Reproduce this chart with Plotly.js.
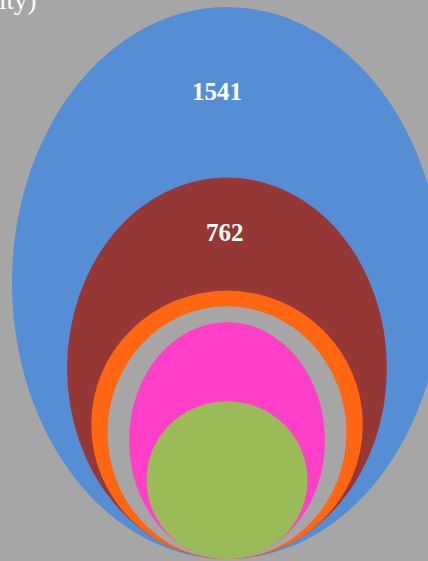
<!DOCTYPE html>
<html>
<head>
<meta charset="utf-8">
<script src="https://cdn.plot.ly/plotly-3.0.1.min.js"></script>
<style>
html,body{margin:0;padding:0;background:#a6a6a6;}
#chart{width:428px;height:561px;}
</style>
</head>
<body>
<div id="chart"></div>
<script>
// ---- data ----
var categories = ["A", "B", "C", "D", "E", "F"];
var values = [1541, 762, 442, 362, 274, 145];
var showLabel = [true, true, false, false, false, false];
var titleText = "ity)";

// ---- styles ----
var colors = ["#558ed5", "#953735", "#ff6611", "#a6a6a6", "#ff3fc8", "#9bbb59"];
var aspect = [0.779, 0.838, 1.012, 0.945, 0.827, 1.02]; // horizontal / vertical semi-axis
var areaScale = 57.5;   // axis units^2 per (value^expo)
var expo = 0.9454;
var centerX = 227;
var baseY = 2;
var labelPos = [[217, 470], [225, 328.5]];

var shapes = [];
var annotations = [];
for (var i = 0; i < values.length; i++) {
  var b = Math.sqrt(areaScale * Math.pow(values[i], expo) / aspect[i]);
  var a = aspect[i] * b;
  shapes.push({
    type: "circle", xref: "x", yref: "y",
    x0: centerX - a, x1: centerX + a,
    y0: baseY, y1: baseY + 2 * b,
    fillcolor: colors[i], line: {width: 0}, layer: "above"
  });
  if (showLabel[i]) {
    annotations.push({
      x: labelPos[i][0], y: labelPos[i][1], xref: "x", yref: "y",
      text: "<b>" + values[i] + "</b>", showarrow: false,
      font: {family: "Liberation Serif, Times New Roman, serif", size: 25, color: "#ffffff"},
      xanchor: "center", yanchor: "middle"
    });
  }
}
annotations.push({
  x: 0, y: 1, xref: "paper", yref: "paper", xanchor: "left", yanchor: "top",
  xshift: -3, yshift: 17, text: titleText, showarrow: false,
  font: {family: "Liberation Serif, Times New Roman, serif", size: 27, color: "#ffffff"}
});

var layout = {
  width: 428, height: 561,
  margin: {l: 0, r: 0, t: 0, b: 0},
  paper_bgcolor: "#a6a6a6", plot_bgcolor: "#a6a6a6",
  xaxis: {range: [0, 428], visible: false, fixedrange: true},
  yaxis: {range: [0, 561], visible: false, fixedrange: true},
  showlegend: false,
  shapes: shapes,
  annotations: annotations
};
Plotly.newPlot("chart", [{x: [], y: [], type: "scatter", mode: "markers", name: categories[0]}], layout, {displayModeBar: false, staticPlot: true});
</script>
</body>
</html>
